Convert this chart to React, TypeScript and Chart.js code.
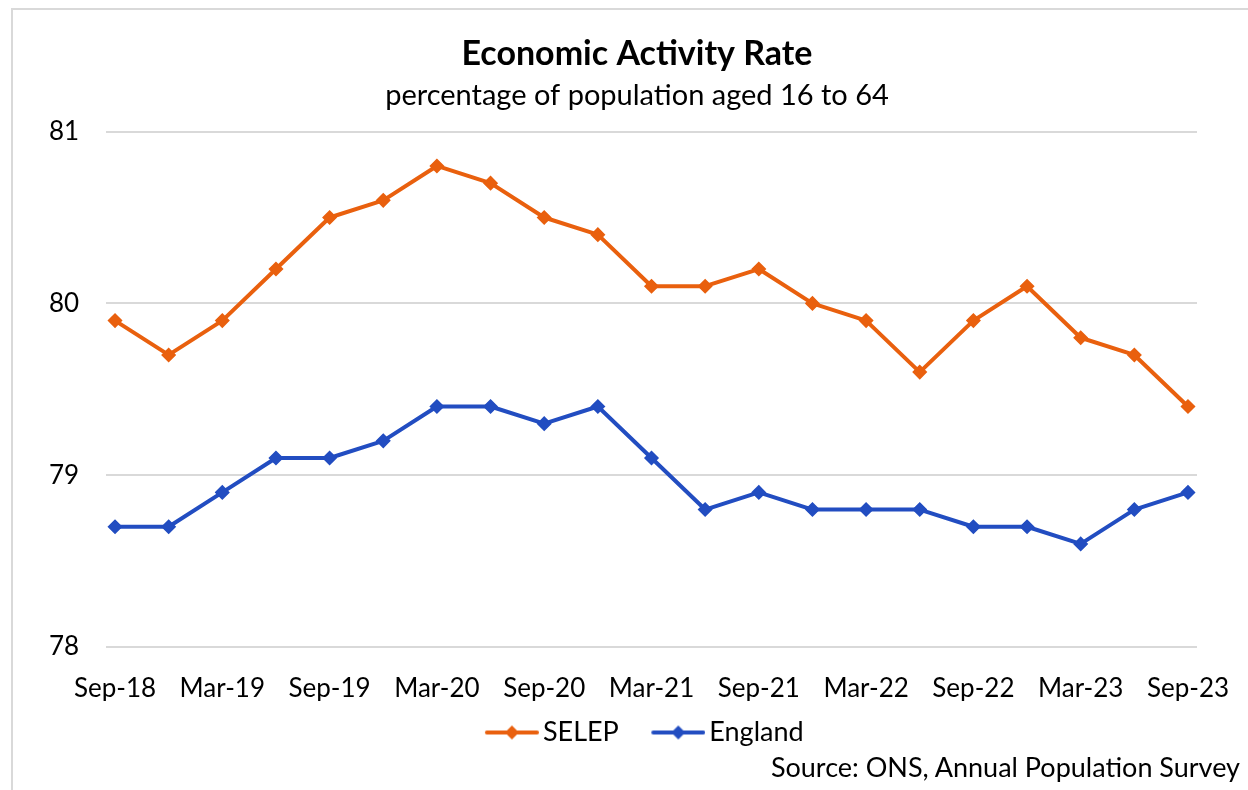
import React, { useEffect, useRef } from 'react';
import { Chart, registerables } from 'chart.js';

Chart.register(...registerables);

const categories = [
  'Sep-18', 'Dec-18', 'Mar-19', 'Jun-19', 'Sep-19', 'Dec-19', 'Mar-20', 'Jun-20',
  'Sep-20', 'Dec-20', 'Mar-21', 'Jun-21', 'Sep-21', 'Dec-21', 'Mar-22', 'Jun-22',
  'Sep-22', 'Dec-22', 'Mar-23', 'Jun-23', 'Sep-23',
];
const selepValues = [
  79.9, 79.7, 79.9, 80.2, 80.5, 80.6, 80.8, 80.7, 80.5, 80.4, 80.1,
  80.1, 80.2, 80.0, 79.9, 79.6, 79.9, 80.1, 79.8, 79.7, 79.4,
];
const englandValues = [
  78.7, 78.7, 78.9, 79.1, 79.1, 79.2, 79.4, 79.4, 79.3, 79.4, 79.1,
  78.8, 78.9, 78.8, 78.8, 78.8, 78.7, 78.7, 78.6, 78.8, 78.9,
];
const seriesNames = ['SELEP', 'England'];
const yMin = 78;
const yMax = 81;
const yStep = 1;
const labelEvery = 2;
const titleText = 'Economic Activity Rate';
const subtitleText = 'percentage of population aged 16 to 64';
const sourceText = 'Source: ONS, Annual Population Survey';

const ORANGE = '#E9600E';
const BLUE = '#224DC1';
const FONT = 'Lato';

function makeLegendIcon(color: string): HTMLCanvasElement {
  const c = document.createElement('canvas');
  c.width = 78;
  c.height = 18;
  const ctx = c.getContext('2d')!;
  ctx.strokeStyle = color;
  ctx.lineWidth = 4;
  ctx.lineCap = 'round';
  ctx.beginPath();
  ctx.moveTo(26, 9);
  ctx.lineTo(76, 9);
  ctx.stroke();
  ctx.fillStyle = color;
  ctx.beginPath();
  ctx.moveTo(51, 2);
  ctx.lineTo(58, 9);
  ctx.lineTo(51, 16);
  ctx.lineTo(44, 9);
  ctx.closePath();
  ctx.fill();
  return c;
}

export default function App() {
  const canvasRef = useRef<HTMLCanvasElement | null>(null);

  useEffect(() => {
    let chart: Chart | null = null;
    let cancelled = false;
    const build = () => {
      if (cancelled || !canvasRef.current) return;
      const colors = [ORANGE, BLUE];
      const icons = colors.map(makeLegendIcon);
      const series = [selepValues, englandValues];
      chart = new Chart(canvasRef.current, {
        type: 'line',
        data: {
          datasets: series.map((vals, si) => ({
            label: seriesNames[si],
            data: vals.map((v, i) => ({ x: i, y: v })),
            borderColor: colors[si],
            backgroundColor: colors[si],
            borderWidth: 4,
            borderJoinStyle: 'round',
            pointStyle: 'rectRot',
            pointRadius: 6.5,
            pointBorderWidth: 1.5,
            pointBackgroundColor: colors[si],
            pointBorderColor: colors[si],
            tension: 0,
          })),
        },
        options: {
          animation: false,
          responsive: false,
          devicePixelRatio: 1,
          layout: { padding: { top: 0, left: 77, right: 51, bottom: 34 } },
          scales: {
            x: {
              type: 'linear',
              min: -0.168,
              max: categories.length - 1 + 0.168,
              afterBuildTicks: (s: any) => {
                s.ticks = categories
                  .map((_, i) => i)
                  .filter((i) => i % labelEvery === 0)
                  .map((v) => ({ value: v }));
              },
              afterFit: (s: any) => {
                s.height = 54;
              },
              ticks: {
                callback: (v: any) => categories[v as number],
                font: { family: FONT, size: 26 },
                color: '#000',
                padding: 18,
                maxRotation: 0,
                autoSkip: false,
              },
              grid: { display: false },
              border: { display: false },
            },
            y: {
              min: yMin,
              max: yMax,
              afterFit: (s: any) => {
                s.width = 29;
              },
              ticks: {
                stepSize: yStep,
                font: { family: FONT, size: 26 },
                color: '#000',
                mirror: true,
                padding: -57,
              },
              grid: { color: '#D9D9D9', lineWidth: 2, drawTicks: false },
              border: { display: false },
            },
          },
          plugins: {
            title: {
              display: true,
              text: titleText,
              color: '#000',
              font: { family: FONT, size: 34, weight: 'bold' },
              padding: { top: 34, bottom: 0 },
            },
            subtitle: {
              display: true,
              text: subtitleText,
              color: '#000',
              font: { family: FONT, size: 29 },
              padding: { top: 3, bottom: 19 },
            },
            legend: {
              position: 'bottom',
              labels: {
                usePointStyle: true,
                pointStyleWidth: 59,
                boxHeight: 16,
                padding: 18,
                color: '#000',
                font: { family: FONT, size: 27 },
                generateLabels: () =>
                  seriesNames.map((name, i) => ({
                    text: name,
                    pointStyle: icons[i],
                    fillStyle: colors[i],
                    strokeStyle: colors[i],
                    fontColor: '#000',
                    lineWidth: 0,
                    hidden: false,
                    datasetIndex: i,
                  })),
              },
            },
            tooltip: { enabled: false },
          },
        } as any,
      });
    };
    const fonts = (document as any).fonts;
    if (fonts && fonts.load) {
      Promise.all([
        fonts.load('26px Lato'),
        fonts.load('bold 34px Lato'),
      ]).then(build, build);
    } else {
      build();
    }
    return () => {
      cancelled = true;
      if (chart) chart.destroy();
    };
  }, []);

  return (
    <div
      style={{
        position: 'fixed',
        left: 0,
        top: 0,
        width: 1248,
        height: 790,
        overflow: 'hidden',
        background: '#fff',
      }}
    >
      <div
        style={{
          position: 'absolute',
          left: 11,
          top: 8,
          width: 1400,
          height: 1000,
          border: '2px solid #D9D9D9',
        }}
      />
      <canvas
        ref={canvasRef}
        width={1248}
        height={790}
        style={{ position: 'absolute', left: 0, top: 0, width: 1248, height: 790 }}
      />
      <div
        style={{
          position: 'absolute',
          right: 8,
          top: 751,
          fontFamily: FONT,
          fontSize: 27,
          lineHeight: '32px',
          color: '#000',
          whiteSpace: 'nowrap',
        }}
      >
        {sourceText}
      </div>
    </div>
  );
}
